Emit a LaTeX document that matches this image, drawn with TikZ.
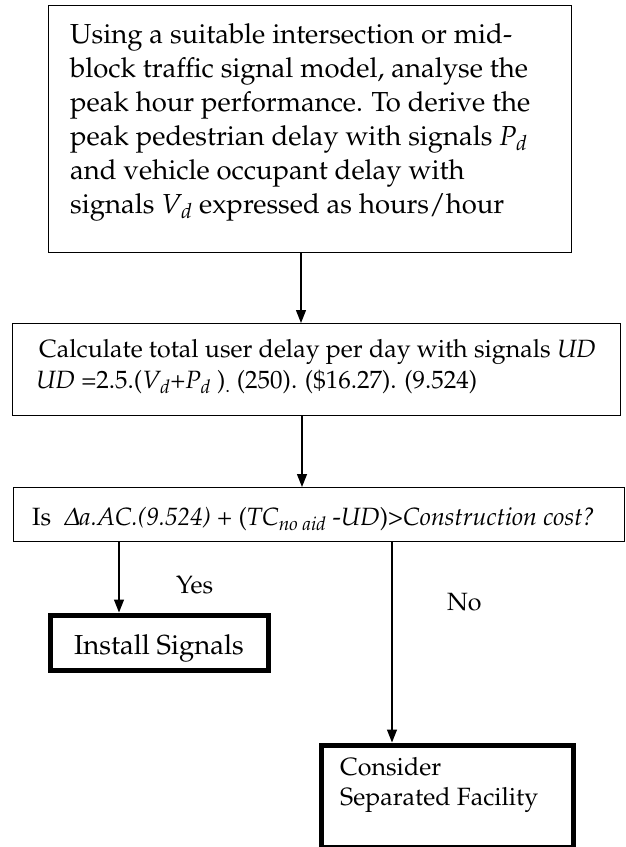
\documentclass[tikz,border=0pt]{standalone}
\usepackage[T1]{fontenc}
\usepackage{amsmath}
\usepackage{mathpazo}
\usetikzlibrary{arrows.meta}
\tikzset{
  box/.style={draw, line width=1.4pt, inner sep=0pt},
  thickbox/.style={draw, line width=5pt, inner sep=0pt},
  arr/.style={line width=1.4pt, -{Triangle[length=13pt,width=10pt]}},
  bigtxt/.style={inner sep=0pt, align=left, font=\fontsize{27.5}{34}\selectfont},
  midtxt/.style={inner sep=0pt, align=left, font=\fontsize{25}{31}\selectfont},
  lbl/.style={inner sep=0pt, font=\fontsize{25}{30}\selectfont}
}
\begin{document}
\begin{tikzpicture}[x=1pt,y=-1pt]
\useasboundingbox (0,0) rectangle (625,847);
% box 1
\node[box, minimum width=523pt, minimum height=247pt, anchor=north west] (b1) at (48,5) {};
\node[bigtxt, anchor=north west] (t1) at (70,23) {Using a suitable intersection or mid-\\
block traffic signal model, analyse the\\
peak hour performance. To derive the\\
peak pedestrian delay with signals \textit{P\textsubscript{d}}\\
and vehicle occupant delay with\\
signals \textit{V\textsubscript{d}} expressed as hours/hour};
% box 2
\node[box, minimum width=608pt, minimum height=92pt, anchor=north west] (b2) at (12,323) {};
\node[midtxt, anchor=north west] (t2) at (36,339) {\hspace*{3pt}Calculate total user delay per day with signals \textit{UD}\\
\textit{UD} =2.5.(\textit{V\textsubscript{d}}+\textit{P\textsubscript{d}} )\textsubscript{.} (250). (\$16.27). (9.524)};
% box 3
\node[box, minimum width=611pt, minimum height=54pt, anchor=north west] (b3) at (13,487) {};
\node[midtxt, anchor=base west] (t3) at (32,525) {Is\ \ \textit{$\varDelta$a.AC.(9.524)} + (\textit{TC\textsubscript{no aid}} -\textit{UD})>\textit{Construction cost?}};
% end boxes
\node[thickbox, minimum width=218pt, minimum height=55pt, anchor=north west,
      font=\fontsize{27.5}{34}\selectfont, text height=24pt, text depth=0pt] (inst) at (47.5,612.5) {Install Signals};
\node[thickbox, minimum width=252pt, minimum height=102pt, anchor=north west] (cons) at (318.5,742.5) {};
\node[lbl, align=left, anchor=north west] (t4) at (340,757) {Consider\\Separated Facility};
% connectors
\draw[arr] (b1.south -| 301,0) -- (b2.north -| 301,0);
\draw[arr] (b2.south -| 302,0) -- (b3.north -| 302,0);
\draw[arr] (b3.south -| 119,0) -- (inst.north -| 119,0);
\draw[arr] (b3.south -| 392,0) -- (cons.north -| 392,0);
% labels
\node[lbl, anchor=base west] (yes) at (176,593) {Yes};
\node[lbl, anchor=base west] (no) at (447,610) {No};
\end{tikzpicture}
\end{document}
